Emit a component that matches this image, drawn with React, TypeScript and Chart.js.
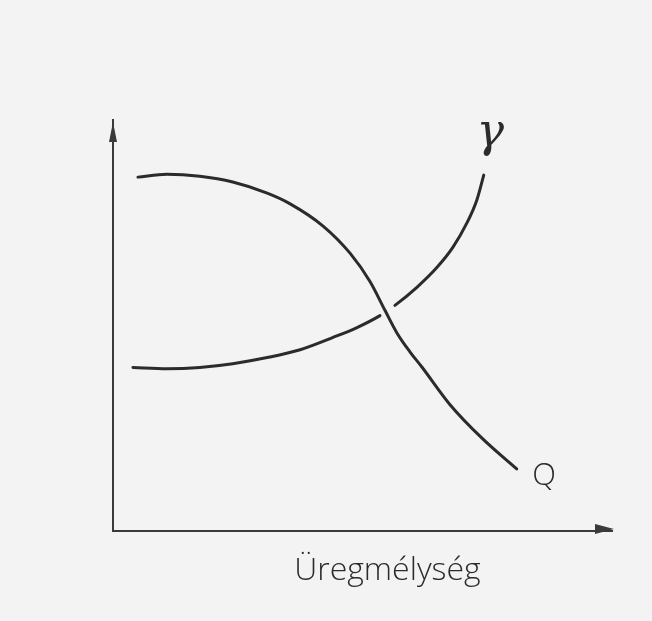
import React, { useEffect, useRef } from "react";
import { Chart, registerables } from "chart.js";

Chart.register(...registerables);

// Q curve (falls with cavity depth)
const qX = [5.0, 10.8, 17.4, 24.0, 30.9, 35.5, 42.1, 47.5, 51.5, 54.5, 56.9, 59.5, 61.9, 67.5, 74.1, 80.9];
const qY = [86.1, 86.8, 86.3, 84.9, 82.2, 79.6, 74.2, 67.6, 60.7, 53.7, 48.2, 43.6, 39.9, 30.8, 22.4, 15.1];

// γ curve (rises with cavity depth)
const gX = [4.0, 10.8, 17.4, 24.0, 30.9, 37.5, 44.1, 48.9, 53.5, 56.5, 60.9, 64.9, 68.1, 70.9, 72.9, 74.3];
const gY = [39.8, 39.5, 39.8, 40.7, 42.2, 44.1, 47.1, 49.5, 52.4, 54.9, 59.3, 64.1, 69.0, 74.9, 80.5, 86.6];
const gGapIndex = 8; // segment hidden where Q crosses over γ

const xTitle = "Üregmélység";
const seriesNames = ["γ", "Q"];

const INK = "#2b2b2b";

const labelPlugin = {
  id: "sketchLabels",
  afterDraw(chart: any) {
    const { ctx, chartArea, scales } = chart;
    const xs = scales.x;
    const ys = scales.y;
    ctx.save();
    ctx.fillStyle = "#3a3a3a";
    // arrowheads
    ctx.beginPath();
    ctx.moveTo(chartArea.left, chartArea.top + 2);
    ctx.lineTo(chartArea.left - 4, chartArea.top + 22);
    ctx.lineTo(chartArea.left + 4, chartArea.top + 22);
    ctx.closePath();
    ctx.fill();
    ctx.beginPath();
    ctx.moveTo(chartArea.right + 2, chartArea.bottom - 2);
    ctx.lineTo(chartArea.right - 17, chartArea.bottom - 7);
    ctx.lineTo(chartArea.right - 17, chartArea.bottom + 3);
    ctx.closePath();
    ctx.fill();
    // texts
    ctx.fillStyle = INK;
    ctx.textAlign = "center";
    ctx.textBaseline = "middle";
    ctx.font = "italic 46px 'DejaVu Serif'";
    ctx.fillText(seriesNames[0], xs.getPixelForValue(75.6), ys.getPixelForValue(96.5));
    ctx.font = "300 31px 'Open Sans'";
    ctx.fillText(seriesNames[1], xs.getPixelForValue(86.4), ys.getPixelForValue(13.4));
    ctx.font = "300 32px 'Open Sans'";
    ctx.fillText(xTitle, xs.getPixelForValue(55.0), ys.getPixelForValue(-9.6));
    ctx.restore();
  },
};

export default function App() {
  const ref = useRef<HTMLCanvasElement | null>(null);
  useEffect(() => {
    if (!ref.current) return;
    const chart = new Chart(ref.current, {
      type: "scatter",
      data: {
        datasets: [
          {
            label: seriesNames[0],
            data: gX.map((x, i) => ({ x, y: gY[i] })),
            showLine: true,
            borderColor: INK,
            borderWidth: 3,
            borderCapStyle: "round",
            pointRadius: 0,
            cubicInterpolationMode: "monotone",
            segment: {
              borderColor: (c: any) => (c.p0DataIndex === gGapIndex ? "rgba(0,0,0,0)" : undefined),
            },
          } as any,
          {
            label: seriesNames[1],
            data: qX.map((x, i) => ({ x, y: qY[i] })),
            showLine: true,
            borderColor: INK,
            borderWidth: 3,
            borderCapStyle: "round",
            pointRadius: 0,
            cubicInterpolationMode: "monotone",
          } as any,
        ],
      },
      options: {
        responsive: false,
        animation: false,
        layout: { padding: { left: 105, right: 40, top: 120, bottom: 82 } },
        plugins: { legend: { display: false }, tooltip: { enabled: false } },
        scales: {
          x: {
            type: "linear",
            min: 0,
            max: 100,
            ticks: { display: false },
            grid: { display: false },
            border: { display: true, color: "#3a3a3a", width: 2 },
          },
          y: {
            type: "linear",
            min: 0,
            max: 100,
            ticks: { display: false },
            grid: { display: false },
            border: { display: true, color: "#3a3a3a", width: 2 },
          },
        },
      },
      plugins: [labelPlugin],
    });
    return () => chart.destroy();
  }, []);
  return (
    <div style={{ position: "fixed", left: 0, top: 0, width: 652, height: 621, background: "#f3f3f3" }}>
      <canvas ref={ref} width={652} height={621} style={{ display: "block" }} />
    </div>
  );
}
